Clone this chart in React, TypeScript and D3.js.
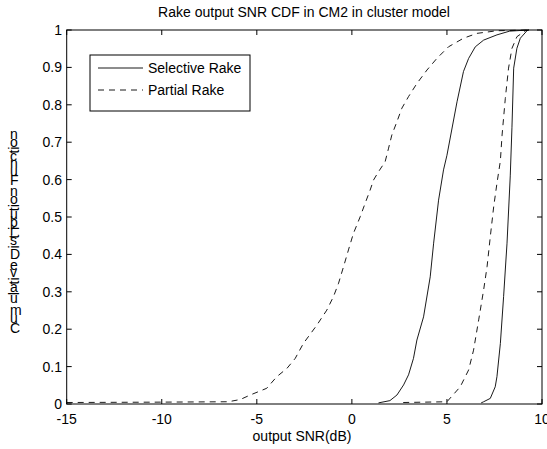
import React from "react";
import * as d3 from "d3";

const W = 547;
const H = 449;

const xTicks = [-15, -10, -5, 0, 5, 10];
const yTicks = [0, 0.1, 0.2, 0.3, 0.4, 0.5, 0.6, 0.7, 0.8, 0.9, 1];
const yTickLabels = ["0", "0.1", "0.2", "0.3", "0.4", "0.5", "0.6", "0.7", "0.8", "0.9", "1"];

const titleText = "Rake output SNR CDF in CM2 in cluster model";
const xLabelText = "output SNR(dB)";
const yLabelText = "Cumulative Distribution Function";
const legendNames = ["Selective Rake", "Partial Rake"];

// Partial Rake (left dashed)
const partialAX = [-15, -10, -6.5, -5.87, -5.35, -4.48, -3.95, -3.42, -2.98, -2.55, -1.84, -1.32, -0.97, -0.7, -0.44, -0.18, 0.08, 0.44, 0.7, 0.96, 1.14, 1.4, 1.75, 1.93, 2.1, 2.37, 2.63, 2.98, 3.42, 3.95, 4.47, 5.08, 5.87, 6.58, 7.63, 9.3];
const partialAY = [0.004, 0.005, 0.006, 0.012, 0.024, 0.042, 0.073, 0.095, 0.122, 0.162, 0.211, 0.251, 0.287, 0.323, 0.367, 0.412, 0.456, 0.501, 0.537, 0.572, 0.599, 0.621, 0.648, 0.684, 0.719, 0.755, 0.791, 0.822, 0.857, 0.893, 0.924, 0.955, 0.978, 0.991, 0.998, 1.0];

// Selective Rake (middle solid)
const selectiveAX = [1.4, 2.0, 2.37, 2.72, 2.98, 3.24, 3.42, 3.77, 4.12, 4.3, 4.56, 4.82, 5.0, 5.53, 5.87, 6.14, 6.49, 6.93, 7.63, 8.3, 9.3];
const selectiveAY = [0.003, 0.009, 0.024, 0.051, 0.078, 0.122, 0.171, 0.233, 0.34, 0.43, 0.545, 0.626, 0.665, 0.808, 0.889, 0.924, 0.955, 0.973, 0.987, 0.997, 1.0];

// Partial Rake (second dashed)
const partialBX = [2.7, 5.0, 5.7, 6.14, 6.4, 6.67, 6.93, 7.11, 7.28, 7.46, 7.63, 7.81, 7.9, 8.07, 8.24, 8.42, 8.68, 9.12, 9.3];
const partialBY = [0.004, 0.006, 0.046, 0.091, 0.144, 0.225, 0.305, 0.367, 0.447, 0.528, 0.59, 0.65, 0.719, 0.817, 0.898, 0.951, 0.982, 0.998, 1.0];

// Selective Rake (rightmost solid)
const selectiveBX = [6.8, 6.93, 7.28, 7.54, 7.63, 7.81, 7.98, 8.16, 8.33, 8.42, 8.51, 8.68, 8.86, 9.21, 9.3];
const selectiveBY = [0.003, 0.006, 0.015, 0.046, 0.073, 0.162, 0.287, 0.43, 0.61, 0.74, 0.898, 0.951, 0.978, 0.998, 1.0];

const FONT = "'Liberation Sans', Arial, Helvetica, sans-serif";
const FS = 14;

const charW: Record<string, number> = {
  C: 0.722, u: 0.556, m: 0.833, l: 0.222, a: 0.556, t: 0.278, i: 0.222, v: 0.5, e: 0.556,
  " ": 0.278, D: 0.722, s: 0.5, r: 0.333, b: 0.556, o: 0.556, n: 0.556, F: 0.611, c: 0.5,
};

export default function App() {
  const left = 66.7, right = 542, top = 30, bottom = 404;
  const x = d3.scaleLinear().domain([-15, 10]).range([left, right]);
  const y = d3.scaleLinear().domain([0, 1]).range([bottom, top]);
  const line = d3.line<[number, number]>().x((d) => x(d[0])).y((d) => y(d[1]));
  const mk = (xs: number[], ys: number[]) => xs.map((v, i) => [v, ys[i]] as [number, number]);

  const series = [
    { pts: mk(partialAX, partialAY), dash: "6,5" },
    { pts: mk(selectiveAX, selectiveAY), dash: "" },
    { pts: mk(partialBX, partialBY), dash: "6,5" },
    { pts: mk(selectiveBX, selectiveBY), dash: "" },
  ];

  // y label: rotated text whose glyphs are individually turned upright (except narrow ones)
  const chars = yLabelText.split("");
  const total = chars.reduce((s, c) => s + (charW[c] ?? 0.55) * FS, 0);
  const narrow = ["i", "l", "t"];
  const offs = chars.map((c) => (narrow.includes(c) ? 9 : 0));
  const dyList = offs.map((o, i) => o - (i > 0 ? offs[i - 1] : 0)).join(" ");
  const rotList = chars.map((c) => (narrow.includes(c) ? 0 : 90)).join(" ");
  const yLabelX = 10;
  const yLabelCenter = 232;

  const tickLen = 5;

  return (
    <svg width={W} height={H} style={{ position: "absolute", left: 0, top: 0, background: "#fff" }} fontFamily={FONT}>
      <rect x={0} y={0} width={W} height={H} fill="#fff" />
      <text x={304} y={17} fontSize={FS} textAnchor="middle" fill="#000">{titleText}</text>

      <defs>
        <clipPath id="clip">
          <rect x={left} y={top - 1} width={right - left} height={bottom - top + 2} />
        </clipPath>
      </defs>

      {/* curves */}
      <g clipPath="url(#clip)">
        {series.map((s, i) => (
          <path key={i} d={line(s.pts) || ""} fill="none" stroke="#000" strokeWidth={0.9} strokeDasharray={s.dash || undefined} />
        ))}
      </g>

      {/* box */}
      <rect x={left} y={top} width={right - left} height={bottom - top} fill="none" stroke="#000" strokeWidth={1} />

      {/* x ticks */}
      {xTicks.map((t) => (
        <g key={"x" + t}>
          <line x1={x(t)} x2={x(t)} y1={bottom} y2={bottom - tickLen} stroke="#000" />
          <line x1={x(t)} x2={x(t)} y1={top} y2={top + tickLen} stroke="#000" />
          <text x={x(t)} y={424} fontSize={FS} textAnchor="middle" fill="#000">{String(t)}</text>
        </g>
      ))}
      {/* y ticks */}
      {yTicks.map((t, i) => (
        <g key={"y" + t}>
          <line x1={left} x2={left + tickLen} y1={y(t)} y2={y(t)} stroke="#000" />
          <line x1={right} x2={right - tickLen} y1={y(t)} y2={y(t)} stroke="#000" />
          <text x={62} y={y(t) + 5} fontSize={FS} textAnchor="end" fill="#000">{yTickLabels[i]}</text>
        </g>
      ))}

      <text x={302} y={441} fontSize={FS} textAnchor="middle" fill="#000">{xLabelText}</text>

      {/* y label */}
      <text
        transform={`translate(${yLabelX},${yLabelCenter}) rotate(-90)`}
        x={-total / 2}
        y={0}
        dy={dyList}
        rotate={rotList}
        fontSize={FS}
        textAnchor="start"
        fill="#000"
        style={{ whiteSpace: "pre" }}
      >
        {yLabelText}
      </text>

      {/* legend */}
      <rect x={90} y={55} width={160} height={56} fill="#fff" stroke="#000" strokeWidth={1} />
      <line x1={98} x2={143} y1={68} y2={68} stroke="#000" strokeWidth={0.9} />
      <text x={148} y={73} fontSize={FS} fill="#000">{legendNames[0]}</text>
      <line x1={98} x2={143} y1={90} y2={90} stroke="#000" strokeWidth={0.9} strokeDasharray="6,5" />
      <text x={148} y={95} fontSize={FS} fill="#000">{legendNames[1]}</text>
    </svg>
  );
}
